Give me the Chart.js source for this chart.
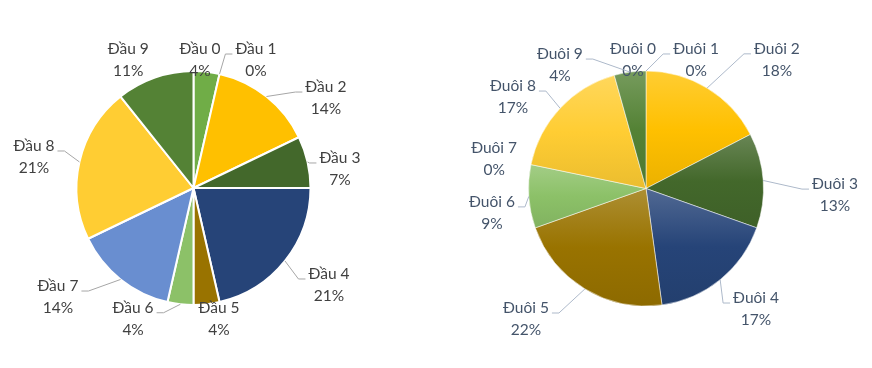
<!DOCTYPE html>
<html>
<head>
<meta charset="utf-8">
<script src="https://cdn.jsdelivr.net/npm/chart.js@4.4.1/dist/chart.umd.min.js"></script>
<style>
  body { margin: 0; background: #fff; }
  #wrap { position: relative; width: 872px; height: 368px; }
  #wrap canvas { position: absolute; top: 0; }
</style>
</head>
<body>
<div id="wrap">
  <canvas id="dauChart" width="436" height="368" style="left:0"></canvas>
  <canvas id="duoiChart" width="436" height="368" style="left:436px"></canvas>
</div>
<script>
const dauLabels = ['Đầu 0', 'Đầu 1', 'Đầu 2', 'Đầu 3', 'Đầu 4', 'Đầu 5', 'Đầu 6', 'Đầu 7', 'Đầu 8', 'Đầu 9'];
const dauCounts = [1, 0, 4, 2, 6, 1, 1, 4, 6, 3];
const dauPercent = [4, 0, 14, 7, 21, 4, 4, 14, 21, 11];

const duoiLabels = ['Đuôi 0', 'Đuôi 1', 'Đuôi 2', 'Đuôi 3', 'Đuôi 4', 'Đuôi 5', 'Đuôi 6', 'Đuôi 7', 'Đuôi 8', 'Đuôi 9'];
const duoiCounts = [0, 0, 4, 3, 4, 5, 2, 0, 4, 1];
const duoiPercent = [0, 0, 18, 13, 17, 22, 9, 0, 17, 4];

const sliceColors = ['#70AD47', '#4472C4', '#FFC000', '#43682B', '#264478',
                     '#997300', '#8CC168', '#698ED0', '#FFCD33', '#548235'];

// where the data labels sit: [angle from top in degrees, distance / radius]
const dauPlace = [[2.9, 1.094], [26, 1.217], [55.8, 1.368], [82.6, 1.262], [125.6, 1.424],
                  [169, 1.141], [204.8, 1.231], [231.2, 1.487], [281, 1.389], [333, 1.229]];
const duoiPlace = [[354.2, 1.098], [21.3, 1.174], [45.5, 1.562], [92, 1.609], [137.6, 1.389],
                   [222.6, 1.509], [261, 1.327], [281, 1.317], [304.5, 1.374], [325.1, 1.281]];

function mix(hex, other, t) {
  const a = parseInt(hex.slice(1), 16), b = parseInt(other.slice(1), 16);
  const ch = s => Math.round(((a >> s) & 255) * (1 - t) + ((b >> s) & 255) * t);
  return 'rgb(' + ch(16) + ',' + ch(8) + ',' + ch(0) + ')';
}

function labelPlugin(cfg) {
  return {
    id: 'pieLabels',
    afterDatasetsDraw(chart) {
      const ctx = chart.ctx;
      const names = chart.data.labels;
      ctx.save();
      ctx.font = '15.5px Lato';
      ctx.textAlign = 'center';
      ctx.textBaseline = 'middle';
      chart.getDatasetMeta(0).data.forEach((arc, i) => {
        const r = arc.outerRadius;
        const a = (cfg.place[i][0] - 90) * Math.PI / 180;
        const lx = arc.x + Math.cos(a) * r * cfg.place[i][1];
        const ly = arc.y + Math.sin(a) * r * cfg.place[i][1];
        const l1 = names[i], l2 = cfg.percent[i] + '%';
        const w = Math.max(ctx.measureText(l1).width, ctx.measureText(l2).width);
        if (!cfg.noLeader.includes(i)) {
          const mid = (arc.startAngle + arc.endAngle) / 2;
          const px = arc.x + Math.cos(mid) * r, py = arc.y + Math.sin(mid) * r;
          const dir = lx > px ? -1 : 1;
          const ex = lx + dir * (w / 2 + 3), ey = ly - 6;
          ctx.strokeStyle = cfg.lineColor;
          ctx.lineWidth = 1;
          ctx.beginPath();
          ctx.moveTo(ex, ey);
          ctx.lineTo(ex + dir * 7, ey);
          ctx.lineTo(px, py);
          ctx.stroke();
        }
        ctx.fillStyle = cfg.color;
        ctx.fillText(l1, lx, ly - 11);
        ctx.fillText(l2, lx, ly + 11);
      });
      ctx.restore();
    }
  };
}

// light-to-dark fill over the height of each slice
const gradientFill = {
  id: 'gradientFill',
  beforeDatasetsDraw(chart) {
    const ctx = chart.ctx;
    chart.getDatasetMeta(0).data.forEach((arc, i) => {
      let top = arc.y, bottom = arc.y;
      for (let t = 0; t <= 64; t++) {
        const ang = arc.startAngle + (arc.endAngle - arc.startAngle) * t / 64;
        const y = arc.y + Math.sin(ang) * arc.outerRadius;
        top = Math.min(top, y);
        bottom = Math.max(bottom, y);
      }
      if (bottom - top < 1) return;
      const base = sliceColors[i];
      const g = ctx.createLinearGradient(0, top, 0, bottom);
      g.addColorStop(0, mix(base, '#FFFFFF', 0.2));
      g.addColorStop(0.5, base);
      g.addColorStop(1, mix(base, '#000000', 0.08));
      arc.options = Object.assign({}, arc.options, { backgroundColor: g });
    });
  }
};

var dauChart = new Chart(document.getElementById('dauChart'), {
  type: 'pie',
  data: {
    labels: dauLabels,
    datasets: [{
      data: dauCounts,
      backgroundColor: sliceColors,
      borderColor: '#FFFFFF',
      borderWidth: 2
    }]
  },
  options: {
    responsive: false,
    animation: false,
    events: [],
    layout: { padding: { left: 50, right: 99, top: 70, bottom: 62 } },
    plugins: { legend: { display: false }, tooltip: { enabled: false } }
  },
  plugins: [labelPlugin({
    place: dauPlace, percent: dauPercent, noLeader: [0, 5, 9],
    color: '#404040', lineColor: '#A6A6A6'
  })]
});

var duoiChart = new Chart(document.getElementById('duoiChart'), {
  type: 'pie',
  data: {
    labels: duoiLabels,
    datasets: [{
      data: duoiCounts,
      backgroundColor: sliceColors,
      borderColor: 'rgba(255,255,255,0.5)',
      borderWidth: 1
    }]
  },
  options: {
    responsive: false,
    animation: false,
    events: [],
    layout: { padding: { left: 20, right: 36, top: 70.5, bottom: 61.5 } },
    plugins: { legend: { display: false }, tooltip: { enabled: false } }
  },
  plugins: [gradientFill, labelPlugin({
    place: duoiPlace, percent: duoiPercent, noLeader: [0, 7],
    color: '#44546A', lineColor: '#ADB9CA'
  })]
});
</script>
</body>
</html>
